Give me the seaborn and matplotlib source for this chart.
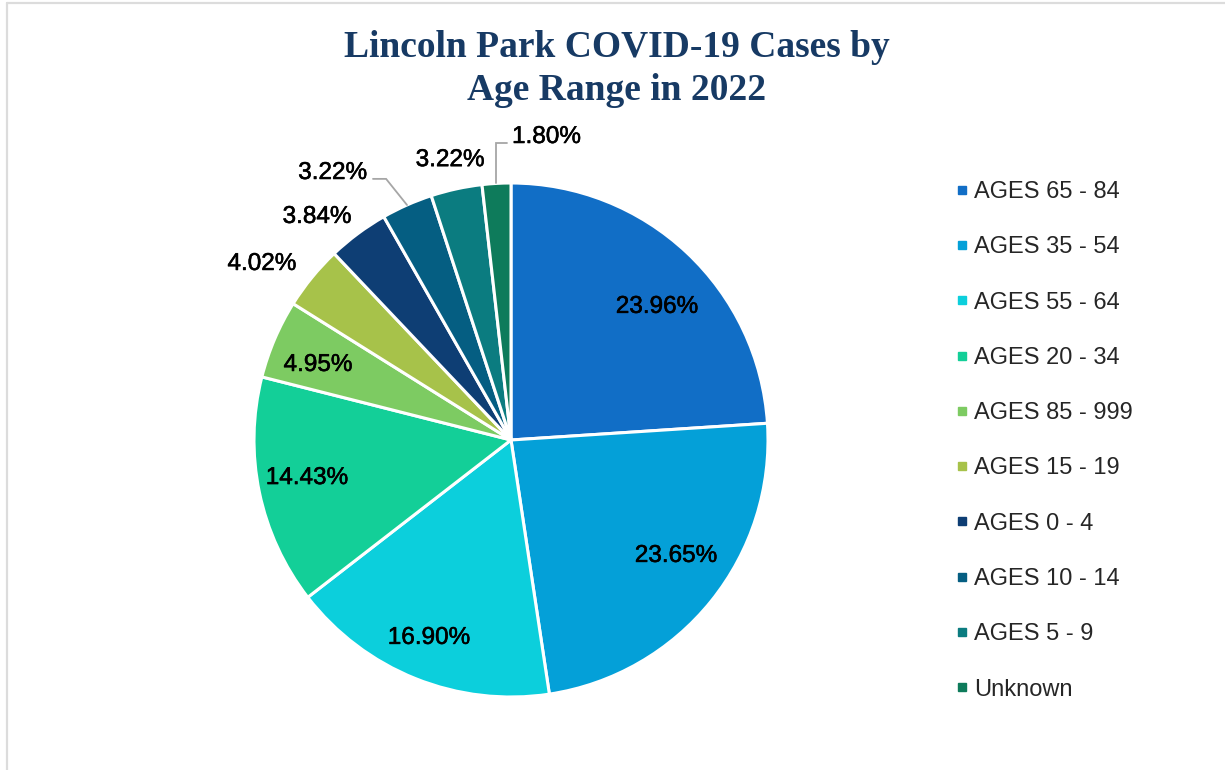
import numpy as np
import matplotlib
matplotlib.use("Agg")
import matplotlib.pyplot as plt
import matplotlib.patheffects as pe
from matplotlib.lines import Line2D
import seaborn as sns

# ---- data ----
categories = ["AGES 65 - 84", "AGES 35 - 54", "AGES 55 - 64", "AGES 20 - 34",
              "AGES 85 - 999", "AGES 15 - 19", "AGES 0 - 4", "AGES 10 - 14",
              "AGES 5 - 9", "Unknown"]
percentages = [23.96, 23.65, 16.90, 14.43, 4.95, 4.02, 3.84, 3.22, 3.22, 1.80]
colors = ["#116ec6", "#04a0d8", "#0ccfdc", "#13cf98", "#7dcb62",
          "#a7c24a", "#0e3e74", "#055e82", "#0b7c80", "#0e7b5b"]
title = "Lincoln Park COVID-19 Cases by\nAge Range in 2022"

sns.set_theme(style="white")
plt.rcParams["font.family"] = ["Liberation Sans", "DejaVu Sans"]

W, H = 1225, 770
fig = plt.figure(figsize=(W / 100, H / 100), dpi=100)
fig.patch.set_facecolor("white")

cx, cy, R = 511, 440, 257
ax = fig.add_axes([(cx - R) / W, (H - cy - R) / H, 2 * R / W, 2 * R / H])
ax.set_facecolor("white")

wedges, _ = ax.pie(percentages, colors=colors, startangle=90, counterclock=False,
                   wedgeprops=dict(edgecolor="white", linewidth=2.2),
                   radius=1.0)
ax.set_xlim(-1, 1)
ax.set_ylim(-1, 1)
ax.set_aspect("equal")
ax.axis("off")

# label layout in pie units: (x, y, ha, leader style)
label_layout = [
    (0.568, 0.518, "center", None),
    (0.642, -0.451, "center", None),
    (-0.319, -0.770, "center", None),
    (-0.794, -0.148, "center", None),
    (-0.751, 0.292, "center", None),
    (-0.969, 0.685, "center", None),
    (-0.755, 0.868, "center", None),
    (-0.560, 1.039, "right", "elbow"),
    (-0.237, 1.089, "center", None),
    (0.004, 1.179, "left", "up"),
]

fs = 17.5
effects = [pe.withStroke(linewidth=0.4, foreground="black")]
for w, pct, (x, y, ha, lead) in zip(wedges, percentages, label_layout):
    theta = np.deg2rad((w.theta1 + w.theta2) / 2)
    ex, ey = np.cos(theta), np.sin(theta)
    ax.text(x, y, f"{pct:.2f}%", ha=ha, va="center", fontsize=fs, color="black",
            clip_on=False, path_effects=effects)
    if lead == "elbow":
        ly = 1.016
        ax.plot([ex, -0.486, -0.537], [ey, ly, ly],
                color="#a6a6a6", lw=1.3, clip_on=False, solid_joinstyle="miter")
    elif lead == "up":
        ly = 1.156
        ax.plot([ex, ex, -0.016], [ey, ly, ly],
                color="#a6a6a6", lw=1.3, clip_on=False, solid_joinstyle="miter")

# legend
handles = [Line2D([0], [0], marker="s", linestyle="none", markersize=5.5,
                  markerfacecolor=c, markeredgecolor=c) for c in colors]
fig.legend(handles, categories, loc="upper left",
           bbox_to_anchor=(955 / W, 1 - 181 / H), frameon=False,
           fontsize=17, labelspacing=1.41, handlelength=0.6, handletextpad=0.2,
           borderpad=0, borderaxespad=0)

# title
fig.text(617 / W, 1 - 69 / H, title, ha="center", va="center",
         fontsize=27, fontweight="bold", color="#173a64",
         family=["Liberation Serif", "DejaVu Serif"], linespacing=1.27)

# border lines (top and left)
fig.add_artist(Line2D([7 / W, 1], [1 - 3 / H, 1 - 3 / H], color="#dcdcdc", lw=1.6,
                      transform=fig.transFigure))
fig.add_artist(Line2D([7 / W, 7 / W], [0, 1 - 3 / H], color="#dcdcdc", lw=1.6,
                      transform=fig.transFigure))

fig.savefig("out.png", dpi=100, facecolor="white")
